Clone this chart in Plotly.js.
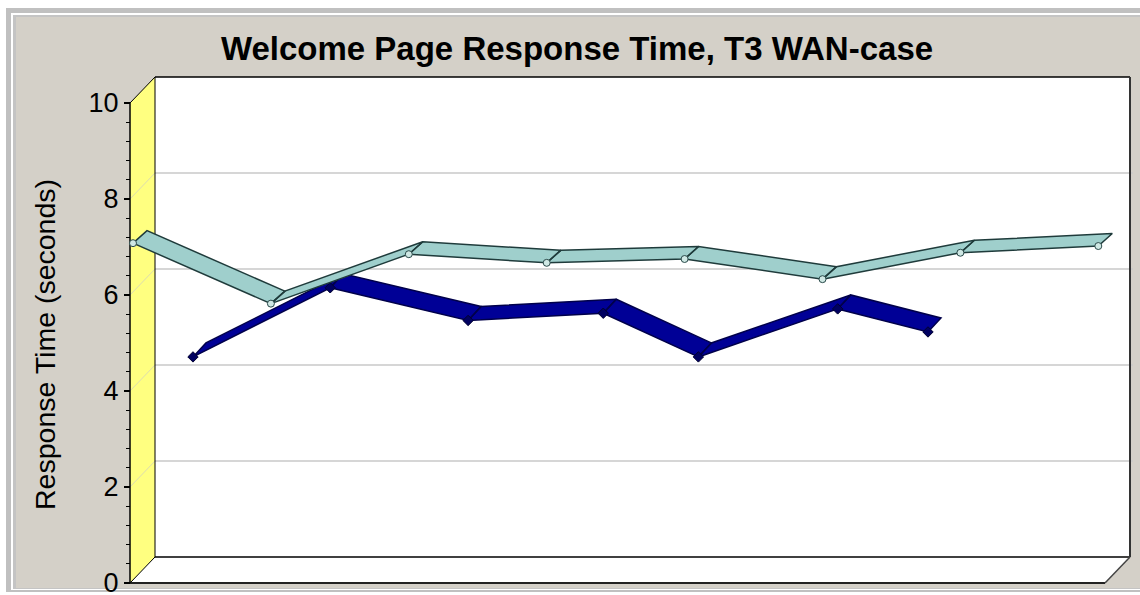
<!DOCTYPE html>
<html><head><meta charset="utf-8">
<script src="https://cdn.plot.ly/plotly-3.0.1.min.js"></script>
<style>html,body{margin:0;padding:0;background:#fff;} #chart{width:1140px;height:595px;}</style>
</head><body><div id="chart"></div>
<script>
// ---- Data ----
const cyanX = [0, 1, 2, 3, 4, 5, 6, 7];
const cyanY = [7.08, 5.82, 6.85, 6.67, 6.75, 6.33, 6.88, 7.02];
const navyX = [0.435, 1.43, 2.43, 3.41, 4.10, 5.11, 5.765];
const navyY = [4.71, 6.15, 5.47, 5.62, 4.71, 5.71, 5.23];
const yTickVals = [0, 2, 4, 6, 8, 10];
const yTickText = ['0', '2', '4', '6', '8', '10'];
const titleText = 'Welcome Page Response Time, T3 WAN-case';
const yTitleText = 'Response Time (seconds)';

// ---- Layout geometry ----
const W = 1140, H = 595;
const ML = 120, MR = 5, MT = 70, MB = 5;
const PW = W - ML - MR, PH = H - MT - MB;
const XPX0 = 133, XSTEP = 137.9;   // px of category 0, px per category
const YPX0 = 583, YSTEP = 48;      // px of value 0, px per unit
const xr = [(ML - XPX0) / XSTEP, (W - MR - XPX0) / XSTEP];
const yr = [-(H - MB - YPX0) / YSTEP, (YPX0 - MT) / YSTEP];
const X0 = (130 - XPX0) / XSTEP, X1 = (1105 - XPX0) / XSTEP;
const DX = 25 / XSTEP, DY = 26 / YSTEP;
const TOP = 10;
const FONT = 'Liberation Sans, Arial, Helvetica, sans-serif';

function P(px) { return (px - ML) / PW; }
function Q(py) { return (H - MB - py) / PH; }

function ribbon(xs, ys, dx, dy) {
  const px = [], py = [];
  for (let i = 0; i < xs.length - 1; i++) {
    px.push(xs[i], xs[i + 1], xs[i + 1] + dx, xs[i] + dx, xs[i], null);
    py.push(ys[i], ys[i + 1], ys[i + 1] + dy, ys[i] + dy, ys[i], null);
  }
  return { x: px, y: py };
}

const navyR = ribbon(navyX, navyY, 13 / XSTEP, 14 / YSTEP);
const cyanR = ribbon(cyanX, cyanY, 14 / XSTEP, 12.5 / YSTEP);

const traces = [
  { x: navyR.x, y: navyR.y, type: 'scatter', mode: 'lines', fill: 'toself',
    fillcolor: '#000096', line: { color: '#00004a', width: 1.5 }, hoverinfo: 'skip' },
  { x: navyX, y: navyY, type: 'scatter', mode: 'markers',
    marker: { symbol: 'diamond', size: 8, color: '#000060', line: { color: '#000030', width: 1 } } },
  { x: cyanR.x, y: cyanR.y, type: 'scatter', mode: 'lines', fill: 'toself',
    fillcolor: '#9fcfcc', line: { color: '#1f3b3b', width: 1.5 }, hoverinfo: 'skip' },
  { x: cyanX, y: cyanY, type: 'scatter', mode: 'markers',
    marker: { symbol: 'circle', size: 7, color: '#cfe8e4', line: { color: '#2a4a4a', width: 1 } } }
];

const shapes = [];
function prect(x0, y0, x1, y1, fill) {
  shapes.push({ type: 'rect', xref: 'paper', yref: 'paper', layer: 'below',
    x0: P(x0), x1: P(x1), y0: Q(y1), y1: Q(y0), fillcolor: fill, line: { width: 0 } });
}
prect(6, 8, 1150, 592, '#c0c0c0');
prect(11, 13, 1150, 590, '#ffffff');
prect(13, 15, 1150, 589, '#c4c4c4');
prect(16, 17, 1150, 588, '#d4d0c8');

function dline(x0, y0, x1, y1, color, width) {
  shapes.push({ type: 'line', xref: 'x', yref: 'y', layer: 'below',
    x0: x0, y0: y0, x1: x1, y1: y1, line: { color: color, width: width } });
}
shapes.push({ type: 'path', xref: 'x', yref: 'y', layer: 'below',
  path: `M ${X0},0 L ${X0 + DX},${DY} L ${X0 + DX},${TOP + DY} L ${X0},${TOP} Z`,
  fillcolor: '#ffff80', line: { width: 0 } });
shapes.push({ type: 'rect', xref: 'x', yref: 'y', layer: 'below',
  x0: X0 + DX, x1: X1 + DX, y0: DY, y1: TOP + DY, fillcolor: '#ffffff', line: { width: 0 } });
shapes.push({ type: 'path', xref: 'x', yref: 'y', layer: 'below',
  path: `M ${X0},0 L ${X1},0 L ${X1 + DX},${DY} L ${X0 + DX},${DY} Z`,
  fillcolor: '#ffffff', line: { width: 0 } });
for (const v of [2, 4, 6, 8]) {
  dline(X0 + DX, v + DY, X1 + DX + 0.02, v + DY, '#c8c8c8', 1.5);
  dline(X0, v, X0 + DX, v + DY, '#dcdcb0', 1);
}
dline(X0 + DX, TOP + DY, X1 + DX, TOP + DY, '#000', 1.5);
dline(X0 + DX, DY, X0 + DX, TOP + DY, '#000', 1);
dline(X0 + DX, DY, X1 + DX, DY, '#000', 1.5);
dline(X1 + DX, DY, X1 + DX, TOP + DY, '#333', 2);
dline(X0, TOP, X0 + DX, TOP + DY, '#000', 1);
dline(X0, 0, X0 + DX, DY, '#000', 1);
dline(X0, 0, X1, 0, '#222', 2);
dline(X1, 0, X1 + DX, DY, '#444', 1.5);
dline(X0, 0, X0, TOP, '#000', 1.5);

const minorVals = [];
for (let k = 0; k <= 25; k++) { if (k % 5 !== 0) minorVals.push(+(k * 0.4).toFixed(2)); }

const layout = {
  width: W, height: H,
  margin: { l: ML, r: MR, t: MT, b: MB },
  paper_bgcolor: '#ffffff', plot_bgcolor: 'rgba(0,0,0,0)',
  showlegend: false,
  title: { text: '<b>' + titleText + '</b>', font: { family: FONT, size: 33, color: '#000' },
    x: 577 / W, xanchor: 'center', xref: 'container', yref: 'container',
    y: 1 - 48 / H, yanchor: 'middle' },
  xaxis: { range: xr, showgrid: false, zeroline: false, showline: false,
    showticklabels: false, ticks: '', fixedrange: true },
  yaxis: { range: yr, anchor: 'free', position: P(130), tickmode: 'array',
    tickvals: yTickVals, ticktext: yTickText, ticks: 'outside', ticklen: 6, tickwidth: 1.5,
    tickcolor: '#000', showgrid: false, zeroline: false, showline: false,
    ticklabeloverflow: 'allow',
    tickfont: { family: FONT, size: 27, color: '#000' },
    minor: { tickmode: 'array', tickvals: minorVals, ticks: 'outside', ticklen: 4,
      tickwidth: 1, tickcolor: '#000', showgrid: false } },
  shapes: shapes,
  annotations: [{ text: yTitleText, xref: 'paper', yref: 'paper', x: P(45), y: Q(345),
    xanchor: 'center', yanchor: 'middle', textangle: -90, showarrow: false,
    font: { family: FONT, size: 28.5, color: '#000' } }]
};

Plotly.newPlot('chart', traces, layout, { displayModeBar: false, staticPlot: true });
</script></body></html>
